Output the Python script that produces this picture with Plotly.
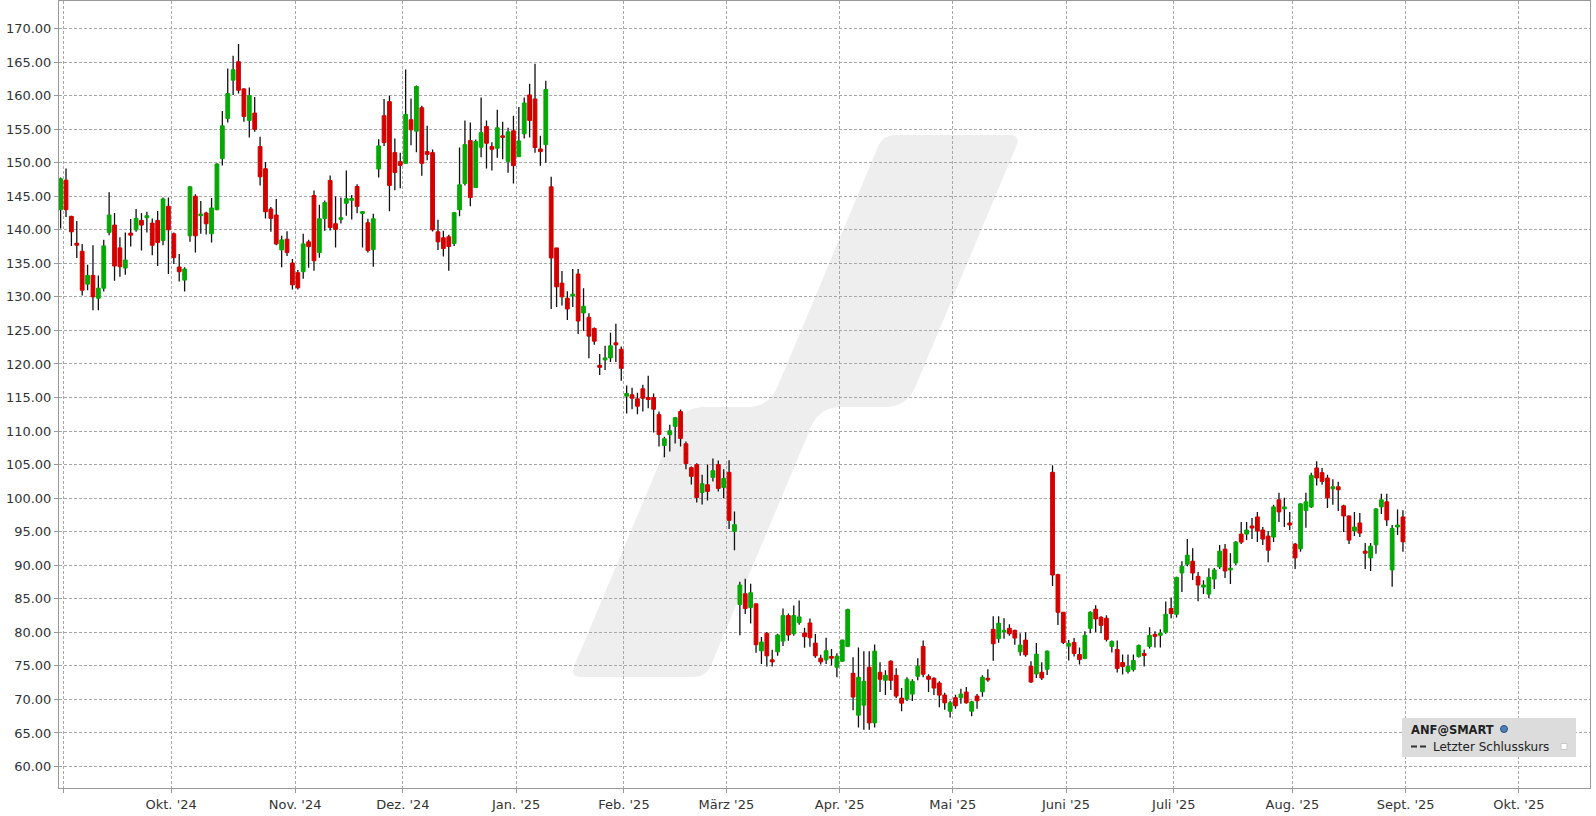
import math
import pandas as pd
import plotly.graph_objects as go

# ---------------- data (ANF@SMART, daily candles) ----------------
open_ = [143.0, 147.4, 142.0, 138.0, 136.8, 131.9, 133.2, 129.8, 131.3, 139.6,
         140.7, 137.3, 134.3, 139.5, 140.0, 141.4, 141.8, 141.0, 141.4, 138.4,
         143.5, 139.4, 134.45, 132.5, 139.1, 145.0, 142.1, 142.5, 139.4, 143.0,
         150.6, 156.6, 162.3, 165.05, 161.0, 156.3, 157.4, 152.4, 149.1, 143.1,
         142.2, 137.0, 138.6, 135.05, 133.6, 133.75, 138.2, 145.1, 136.6, 141.7,
         147.35, 140.9, 141.55, 143.95, 144.4, 146.45, 142.45, 141.05, 137.05, 149.05,
         157.0, 159.1, 151.5, 150.15, 149.9, 156.4, 154.7, 158.2, 151.65, 151.5,
         139.7, 138.8, 138.95, 137.95, 143.0, 146.9, 153.3, 146.3, 152.3, 155.4,
         152.4, 152.15, 154.0, 150.2, 154.75, 150.9, 154.3, 160.1, 159.5, 152.05,
         152.7, 146.4, 137.3, 132.05, 129.8, 130.15, 133.4, 127.6, 126.95, 125.3,
         119.8, 120.6, 120.9, 123.15, 122.2, 115.2, 115.4, 114.8, 116.3, 115.0,
         115.0, 112.45, 107.85, 109.45, 110.7, 112.9, 108.1, 104.55, 105.0, 100.85,
         102.0, 103.1, 105.0, 101.6, 103.85, 95.05, 84.15, 85.75, 83.7, 84.25,
         77.25, 79.85, 75.9, 77.1, 78.7, 82.5, 79.8, 81.45, 79.9, 81.4,
         78.4, 76.15, 75.9, 76.4, 74.8, 75.7, 77.9, 73.9, 67.65, 69.15,
         74.8, 66.5, 74.05, 72.85, 75.7, 73.6, 70.2, 70.05, 70.8, 73.45,
         77.9, 73.45, 73.15, 72.45, 70.65, 68.25, 70.25, 70.25, 71.1, 68.25,
         70.5, 71.15, 73.15, 80.45, 79.05, 80.05, 80.6, 80.3, 77.1, 78.85,
         74.95, 73.8, 74.05, 74.5, 103.85, 88.6, 83.0, 77.95, 78.5, 76.7,
         76.1, 80.6, 83.45, 82.25, 82.1, 77.9, 77.45, 75.5, 74.15, 74.45,
         76.4, 76.85, 77.9, 79.7, 79.55, 80.0, 83.55, 82.7, 88.85, 90.15,
         90.6, 88.35, 86.75, 85.7, 87.95, 89.75, 92.4, 89.3, 90.35, 94.65,
         94.65, 95.85, 97.2, 95.25, 94.35, 94.2, 99.75, 98.4, 96.3, 93.15,
         92.45, 98.15, 98.7, 104.5, 103.8, 103.0, 101.4, 101.7, 98.85, 97.35,
         95.1, 96.3, 92.1, 91.1, 93.05, 98.7, 99.45, 89.3, 95.7, 97.2]

high = [147.8, 149.15, 142.1, 141.3, 137.9, 134.8, 137.7, 133.2, 138.5, 145.6,
        142.5, 138.9, 139.6, 141.6, 143.1, 142.5, 142.7, 141.7, 142.8, 144.8,
        144.8, 139.6, 136.4, 134.4, 146.5, 145.3, 144.3, 142.7, 144.75, 149.9,
        157.7, 164.05, 165.95, 167.7, 161.1, 161.2, 159.8, 153.85, 150.1, 143.4,
        144.6, 139.1, 139.8, 135.65, 134.0, 139.4, 138.5, 145.85, 143.75, 144.35,
        148.1, 144.95, 144.8, 148.85, 145.2, 146.8, 142.75, 141.65, 142.4, 153.5,
        159.5, 160.0, 153.6, 151.5, 163.9, 159.55, 161.5, 158.5, 155.5, 151.95,
        141.5, 139.85, 139.25, 142.6, 152.25, 156.3, 156.0, 153.45, 159.7, 156.3,
        153.05, 157.9, 156.1, 155.2, 157.0, 158.3, 159.7, 161.75, 164.75, 154.0,
        162.2, 147.9, 137.3, 133.85, 130.85, 134.15, 134.15, 131.3, 127.55, 125.45,
        121.5, 122.7, 124.65, 126.0, 122.6, 116.8, 116.45, 115.7, 116.9, 118.25,
        115.6, 112.9, 109.15, 110.95, 112.1, 113.2, 108.45, 104.7, 105.2, 103.5,
        105.0, 105.9, 105.6, 104.3, 105.65, 98.0, 87.55, 88.0, 87.25, 84.3,
        79.3, 80.05, 77.4, 79.8, 83.55, 82.8, 84.0, 84.75, 80.7, 82.05,
        79.75, 76.65, 79.2, 77.5, 76.9, 78.9, 83.5, 76.3, 77.75, 77.2,
        77.2, 78.2, 75.55, 74.35, 75.85, 74.65, 71.7, 73.3, 73.0, 76.15,
        78.8, 73.75, 73.3, 72.7, 71.0, 69.8, 70.7, 71.6, 71.85, 69.8,
        70.8, 73.6, 74.5, 82.4, 82.4, 82.1, 81.2, 80.4, 79.85, 80.0,
        75.7, 78.4, 75.55, 77.3, 104.9, 88.75, 83.05, 78.85, 79.15, 77.75,
        80.15, 83.15, 84.05, 82.4, 82.55, 78.8, 78.8, 76.7, 76.7, 76.7,
        78.2, 77.45, 80.75, 80.15, 80.45, 84.6, 85.2, 88.3, 90.6, 93.9,
        92.55, 89.0, 87.75, 89.55, 89.6, 93.0, 93.15, 91.8, 93.6, 96.45,
        96.45, 97.05, 97.95, 95.7, 95.1, 99.0, 100.8, 100.05, 97.95, 93.3,
        99.25, 100.8, 103.8, 105.5, 104.5, 103.5, 102.8, 102.45, 99.0, 97.4,
        97.95, 97.8, 93.3, 93.3, 98.5, 100.65, 100.65, 96.0, 98.3, 98.2]

low = [140.2, 141.9, 137.6, 135.8, 130.2, 131.0, 128.0, 128.0, 130.8, 139.2,
       132.4, 133.0, 133.3, 137.5, 139.7, 136.9, 139.6, 136.2, 134.6, 137.7,
       133.4, 134.9, 132.3, 130.8, 138.2, 136.6, 139.4, 139.3, 138.1, 142.9,
       149.6, 156.0, 160.1, 160.3, 156.1, 153.75, 154.6, 146.6, 141.7, 139.7,
       137.7, 134.4, 136.1, 131.1, 131.1, 132.7, 134.35, 133.9, 135.85, 139.85,
       139.9, 137.35, 140.95, 142.1, 141.55, 142.45, 137.35, 136.6, 134.5, 147.8,
       152.5, 142.75, 145.9, 146.2, 149.9, 152.6, 151.55, 148.05, 150.35, 139.75,
       137.0, 136.0, 133.9, 137.6, 142.0, 146.6, 143.5, 146.3, 150.8, 149.15,
       148.85, 150.75, 150.5, 148.5, 146.9, 150.9, 153.6, 153.75, 151.5, 149.55,
       150.0, 128.2, 128.5, 128.7, 126.55, 128.5, 124.45, 124.9, 120.85, 122.85,
       118.35, 119.1, 120.3, 120.3, 117.5, 112.6, 113.25, 112.5, 112.9, 113.4,
       109.8, 107.7, 106.1, 106.95, 108.15, 107.7, 104.3, 102.05, 99.35, 99.05,
       99.65, 102.5, 101.0, 100.0, 95.4, 92.25, 79.55, 82.75, 81.3, 76.95,
       75.3, 74.9, 74.9, 76.5, 77.95, 78.75, 79.5, 81.15, 77.7, 77.85,
       76.2, 75.2, 75.3, 75.05, 73.3, 75.6, 77.8, 68.4, 65.8, 65.5,
       65.5, 65.8, 71.1, 70.65, 71.4, 70.2, 68.25, 69.75, 69.75, 72.85,
       73.3, 71.1, 70.65, 68.85, 68.45, 67.3, 68.6, 69.35, 69.35, 67.5,
       68.6, 70.4, 72.65, 75.75, 78.45, 79.05, 79.5, 78.15, 76.5, 76.35,
       72.45, 73.2, 72.9, 73.65, 86.9, 81.1, 78.25, 75.8, 76.4, 75.2,
       76.0, 79.85, 80.0, 79.85, 78.65, 77.0, 74.0, 73.7, 73.85, 74.15,
       76.25, 74.9, 77.6, 77.75, 77.75, 79.8, 82.1, 82.2, 86.0, 89.85,
       87.8, 84.65, 85.7, 85.1, 86.45, 89.45, 88.1, 87.2, 90.05, 93.15,
       93.75, 93.9, 93.45, 93.0, 90.45, 93.45, 96.45, 95.7, 95.25, 89.45,
       92.0, 95.6, 98.55, 101.9, 102.0, 98.55, 99.0, 98.1, 94.95, 93.15,
       94.35, 94.2, 89.45, 89.15, 91.7, 97.65, 95.85, 86.8, 94.5, 92.0]

close = [147.6, 143.0, 139.7, 137.7, 131.0, 133.2, 130.0, 131.3, 137.6, 142.2,
         134.6, 134.5, 135.5, 139.2, 141.7, 140.7, 142.1, 137.7, 138.1, 144.6,
         140.0, 135.85, 133.75, 134.15, 146.4, 139.1, 142.35, 140.9, 143.25, 149.8,
         155.5, 160.3, 163.85, 160.8, 156.9, 160.0, 154.95, 147.9, 142.7, 141.7,
         137.9, 138.5, 136.6, 131.8, 131.35, 137.9, 137.5, 135.4, 141.65, 144.05,
         140.35, 140.05, 141.8, 144.65, 144.65, 143.5, 142.7, 136.9, 141.65, 152.5,
         153.0, 146.6, 148.55, 149.6, 157.2, 154.9, 161.35, 149.9, 151.25, 140.0,
         138.2, 137.2, 137.5, 142.55, 146.7, 152.7, 144.8, 153.15, 154.5, 152.9,
         152.0, 155.2, 153.8, 154.6, 149.55, 153.25, 158.9, 156.3, 152.25, 151.65,
         160.9, 135.8, 131.5, 130.0, 128.2, 130.4, 126.4, 128.6, 124.15, 123.4,
         119.5, 120.9, 122.7, 122.85, 119.35, 115.6, 114.9, 113.7, 114.9, 114.7,
         113.25, 109.5, 108.85, 110.05, 112.0, 108.9, 105.15, 103.25, 100.1, 102.15,
         101.0, 104.1, 101.45, 102.95, 96.7, 96.05, 87.05, 83.55, 85.9, 78.15,
         78.55, 76.5, 75.6, 79.6, 82.5, 79.6, 82.5, 82.3, 79.35, 79.2,
         76.5, 75.6, 77.25, 76.15, 76.45, 78.85, 83.4, 70.35, 73.3, 72.7,
         66.5, 77.2, 73.0, 73.6, 72.85, 70.5, 69.45, 73.0, 72.7, 74.95,
         73.75, 73.0, 71.7, 70.65, 69.5, 69.5, 69.05, 70.8, 69.5, 69.65,
         69.8, 73.3, 72.9, 78.3, 81.35, 80.3, 79.8, 79.15, 78.1, 76.65,
         72.6, 76.75, 73.2, 77.2, 88.55, 83.0, 78.5, 78.35, 76.85, 75.95,
         79.55, 83.0, 82.0, 81.05, 78.95, 78.65, 74.6, 74.9, 74.9, 75.8,
         78.05, 76.55, 79.55, 79.4, 79.9, 82.7, 82.8, 88.2, 89.85, 91.5,
         88.85, 87.05, 87.05, 88.2, 89.3, 92.1, 89.15, 89.55, 93.45, 93.45,
         95.25, 95.55, 95.1, 93.9, 92.25, 98.7, 97.95, 98.7, 96.0, 91.1,
         99.15, 99.45, 103.4, 103.0, 102.5, 100.05, 101.7, 101.25, 97.35, 93.75,
         95.7, 94.8, 91.8, 92.85, 98.4, 99.75, 96.75, 95.5, 96.0, 93.5]

holidays = ["2024-09-02", "2024-11-28", "2024-12-25", "2025-01-01", "2025-01-09",
            "2025-01-20", "2025-02-17", "2025-04-18", "2025-05-26", "2025-06-19",
            "2025-07-04", "2025-09-01"]

month_labels = ["", "Okt. '24", "Nov. '24", "Dez. '24", "Jan. '25", "Feb. '25",
                "März '25", "Apr. '25", "Mai '25", "Juni '25", "Juli '25",
                "Aug. '25", "Sept. '25", "Okt. '25"]

y_ticks = [60 + 5 * k for k in range(23)]

# ---------------- trading-day axis ----------------
days = pd.bdate_range("2024-08-30", "2025-10-31")
days = days[~days.isin(pd.to_datetime(holidays))]
n = len(close)
x = list(range(n))
periods = pd.Series(days.to_period("M"))
first_of_month = periods.ne(periods.shift()).to_numpy().nonzero()[0][1:]
tickvals = [int(i) - 0.5 for i in first_of_month]

# ---------------- figure ----------------
W, H = 1596, 816
L, R, T, B = 59, 6, 1, 28
PW, PH = W - L - R, H - T - B


def px(v):
    return (v - L) / PW


def py(v):
    return 1 - (v - T) / PH


GREEN = "#06a806"
RED = "#d40000"

mid = [(o + c) / 2 for o, c in zip(open_, close)]
body_hi = [max(o, c) for o, c in zip(open_, close)]
body_lo = [min(o, c) for o, c in zip(open_, close)]

fig = go.Figure()
# wicks
fig.add_trace(go.Candlestick(
    x=x, open=mid, close=mid, high=high, low=low,
    increasing=dict(line=dict(color="#111111", width=1.3), fillcolor="#111111"),
    decreasing=dict(line=dict(color="#111111", width=1.3), fillcolor="#111111"),
    whiskerwidth=0, hoverinfo="skip", showlegend=False))
# bodies
fig.add_trace(go.Candlestick(
    x=x, open=open_, close=close, high=body_hi, low=body_lo,
    increasing=dict(line=dict(color=GREEN, width=1), fillcolor=GREEN),
    decreasing=dict(line=dict(color=RED, width=1), fillcolor=RED),
    whiskerwidth=0, showlegend=False, name="ANF@SMART"))

# watermark logo (decoration, paper coordinates)
logo_pts = [(883, 135), (1021, 135), (906.8, 407), (819.4, 407),
            (706, 677), (569.6, 677), (683, 407), (769, 407)]
logo_r = [12, 12, 22, 22, 12, 12, 22, 22]


def rounded_path(pts, radii):
    segs = []
    m = len(pts)
    for i in range(m):
        p0, p1, p2 = pts[i - 1], pts[i], pts[(i + 1) % m]

        def toward(a, b, d):
            dx, dy = b[0] - a[0], b[1] - a[1]
            ln = math.hypot(dx, dy)
            d = min(d, ln / 2)
            return (a[0] + dx * d / ln, a[1] + dy * d / ln)
        segs.append((toward(p1, p0, radii[i]), p1, toward(p1, p2, radii[i])))
    f = lambda p: f"{px(p[0]):.5f},{py(p[1]):.5f}"
    s = f"M {f(segs[0][0])} Q {f(segs[0][1])} {f(segs[0][2])}"
    for a, c, b in segs[1:]:
        s += f" L {f(a)} Q {f(c)} {f(b)}"
    s += f" L {f(segs[0][0])} Z"
    return s


shapes = [dict(type="path", xref="paper", yref="paper", layer="below",
               path=rounded_path(logo_pts, logo_r),
               fillcolor="#eeeeee", line=dict(width=0))]

# legend box
shapes.append(dict(type="rect", xref="paper", yref="paper", layer="above",
                   x0=px(1402), x1=px(1576), y0=py(757), y1=py(718),
                   fillcolor="#dcdcdc", line=dict(width=0)))
shapes.append(dict(type="line", xref="paper", yref="paper", layer="above",
                   x0=px(1411), x1=px(1427), y0=py(746.5), y1=py(746.5),
                   line=dict(color="#333333", width=2, dash="6px,3px")))
shapes.append(dict(type="circle", xref="paper", yref="paper", layer="above",
                   x0=px(1500.5), x1=px(1507.5), y0=py(732.5), y1=py(725.5),
                   fillcolor="#4f7fb8", line=dict(color="#2b4f7a", width=1)))
shapes.append(dict(type="rect", xref="paper", yref="paper", layer="above",
                   x0=px(1561), x1=px(1567), y0=py(749.5), y1=py(743.5),
                   fillcolor="#ffffff", line=dict(color="#c8c8c8", width=1)))

annotations = [
    dict(xref="paper", yref="paper", x=px(1409), y=py(729.5), xanchor="left",
         yanchor="middle", showarrow=False, text="<b>ANF@SMART</b>",
         font=dict(family="DejaVu Sans", size=11.5, color="#222222")),
    dict(xref="paper", yref="paper", x=px(1431), y=py(746.5), xanchor="left",
         yanchor="middle", showarrow=False, text="Letzter Schlusskurs",
         font=dict(family="DejaVu Sans", size=12, color="#222222")),
]

axis_common = dict(showgrid=True, gridcolor="#a8a8a8", griddash="3px,2px",
                   gridwidth=1, showline=True, linecolor="#999999", linewidth=1,
                   mirror=True, ticks="outside", ticklen=4, tickcolor="#999999",
                   zeroline=False, tickfont=dict(family="DejaVu Sans", size=13,
                                                 color="#333333"))

fig.update_layout(
    width=W, height=H,
    margin=dict(l=L, r=R, t=T, b=B, pad=0),
    paper_bgcolor="#ffffff", plot_bgcolor="#ffffff",
    boxgap=0.3, boxgroupgap=0, boxmode="overlay",
    showlegend=False, hovermode=False,
    shapes=shapes, annotations=annotations,
    xaxis=dict(range=[-0.3, 283.7], tickmode="array", tickvals=tickvals,
               ticktext=month_labels, rangeslider=dict(visible=False),
               **axis_common),
    yaxis=dict(range=[56.8, 174.1], tickmode="array", tickvals=y_ticks,
               ticktext=[f"{v:.2f}" for v in y_ticks], **axis_common),
)

fig.write_html("out.html", config={"displayModeBar": False},
               post_script="document.body.style.margin='0';"
                           "document.body.style.overflow='hidden';")
